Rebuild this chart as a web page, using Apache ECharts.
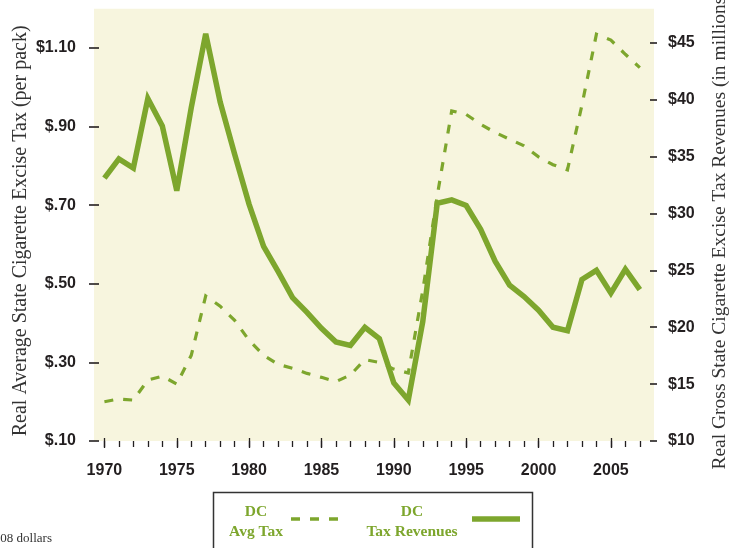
<!DOCTYPE html>
<html>
<head>
<meta charset="utf-8">
<script src="https://cdn.jsdelivr.net/npm/echarts@6/dist/echarts.min.js"></script>
<style>
html,body{margin:0;padding:0;background:#fff;}
#chart{width:738px;height:548px;}
</style>
</head>
<body>
<div id="chart"></div>
<script>
const years = [1970,1971,1972,1973,1974,1975,1976,1977,1978,1979,1980,1981,1982,1983,1984,1985,1986,1987,1988,1989,1990,1991,1992,1993,1994,1995,1996,1997,1998,1999,2000,2001,2002,2003,2004,2005,2006,2007];
const avgTax = [0.200,0.207,0.204,0.255,0.265,0.245,0.318,0.469,0.443,0.407,0.356,0.318,0.295,0.285,0.272,0.262,0.251,0.268,0.307,0.300,0.283,0.273,0.483,0.724,0.940,0.931,0.906,0.885,0.868,0.851,0.823,0.803,0.790,0.955,1.135,1.120,1.084,1.050];
const taxRevenues = [33.1,34.8,34.0,40.1,37.7,32.0,39.3,45.8,39.8,35.2,30.8,27.1,24.9,22.6,21.3,19.9,18.7,18.4,20.0,19.0,15.1,13.6,20.5,30.9,31.2,30.7,28.6,25.8,23.7,22.7,21.5,20.0,19.7,24.2,25.0,23.0,25.1,23.3];
const yearLabels = [1970,1975,1980,1985,1990,1995,2000,2005];
const leftTicks = [0.10,0.30,0.50,0.70,0.90,1.10];
const rightTicks = [10,15,20,25,30,35,40,45];
const seriesNames = ['DC Avg Tax','DC Tax Revenues'];

const green = '#7da62d';
const tickFont = {fontFamily:'"Liberation Sans",Arial,sans-serif', fontWeight:'bold', fontSize:16, color:'#231f20'};
const serif = '"Liberation Serif","Times New Roman",serif';

const chart = echarts.init(document.getElementById('chart'), null, {renderer:'canvas'});
const xBase = {type:'value', min:1969.28, max:2007.98, position:'bottom', splitLine:{show:false}, axisLine:{show:false}};
chart.setOption({
  animation:false,
  backgroundColor:'#ffffff',
  grid:{left:94, right:84, top:8.7, bottom:107, show:true, backgroundColor:'#f7f5de', borderWidth:0, containLabel:false, outerBoundsMode:'none'},
  xAxis:[
    Object.assign({}, xBase, {
      axisTick:{show:true, customValues:years, length:6, lineStyle:{color:'#231f20', width:1.3}},
      axisLabel:{show:true, customValues:yearLabels, margin:22, ...tickFont, formatter:v=>String(Math.round(v))}
    }),
    Object.assign({}, xBase, {
      offset:-3,
      axisTick:{show:true, customValues:yearLabels, length:10, lineStyle:{color:'#231f20', width:1.3}},
      axisLabel:{show:false}
    })
  ],
  yAxis:[
    {type:'value', min:0.1, max:1.2, position:'left', offset:-5, splitLine:{show:false}, axisLine:{show:false},
     axisTick:{show:true, customValues:leftTicks, length:10, lineStyle:{color:'#231f20', width:1.6}},
     axisLabel:{show:true, customValues:leftTicks, margin:23, ...tickFont,
       formatter:v=>'$'+(v>=1 ? v.toFixed(2) : v.toFixed(2).replace(/^0/,''))},
     name:'Real Average State Cigarette Excise Tax (per pack)', nameLocation:'middle', nameRotate:90, nameGap:68, nameMoveOverlap:false,
     nameTextStyle:{fontFamily:serif, fontSize:20, color:'#333333', padding:[0,12,0,0]}
    },
    {type:'value', min:10, max:48, position:'right', offset:-4, splitLine:{show:false}, axisLine:{show:false},
     axisTick:{show:true, customValues:rightTicks, length:7, lineStyle:{color:'#231f20', width:1.6}},
     axisLabel:{show:true, customValues:rightTicks, margin:18, ...tickFont, formatter:v=>'$'+Math.round(v)},
     name:'Real Gross State Cigarette Excise Tax Revenues (in millions)', nameLocation:'middle', nameRotate:90, nameGap:60, nameMoveOverlap:false,
     nameTextStyle:{fontFamily:serif, fontSize:19.5, color:'#333333', padding:[0,10,0,0]}
    }
  ],
  series:[
    {name:seriesNames[1], type:'line', xAxisIndex:0, yAxisIndex:1, symbol:'none', z:2,
     data:years.map((y,i)=>[y,taxRevenues[i]]),
     lineStyle:{color:green, width:5.5, join:'miter', miterLimit:4}},
    {name:seriesNames[0], type:'line', xAxisIndex:0, yAxisIndex:0, symbol:'none', z:3,
     data:years.map((y,i)=>[y,avgTax[i]]),
     lineStyle:{color:green, width:3.2, type:[9,10], cap:'butt', join:'miter'}}
  ],
  graphic:[
    {type:'rect', shape:{x:213.5, y:492.5, width:319, height:90}, style:{fill:'#ffffff', stroke:'#333333', lineWidth:1.5}, z:10},
    {type:'text', x:256, y:522, z:11, style:{text:'DC\nAvg Tax', align:'center', verticalAlign:'middle', lineHeight:20, font:'bold 15.5px '+serif, fill:green}},
    {type:'line', shape:{x1:291, y1:519, x2:339, y2:519}, z:11, style:{stroke:green, lineWidth:3.5, lineDash:[9,10]}},
    {type:'text', x:412, y:522, z:11, style:{text:'DC\nTax Revenues', align:'center', verticalAlign:'middle', lineHeight:20, font:'bold 15.5px '+serif, fill:green}},
    {type:'line', shape:{x1:472, y1:519, x2:520, y2:519}, z:11, style:{stroke:green, lineWidth:5.5}},
    {type:'text', x:52, y:539, z:11, style:{text:'2008 dollars', align:'right', verticalAlign:'middle', font:'13px '+serif, fill:'#333333'}}
  ]
});
</script>
</body>
</html>
